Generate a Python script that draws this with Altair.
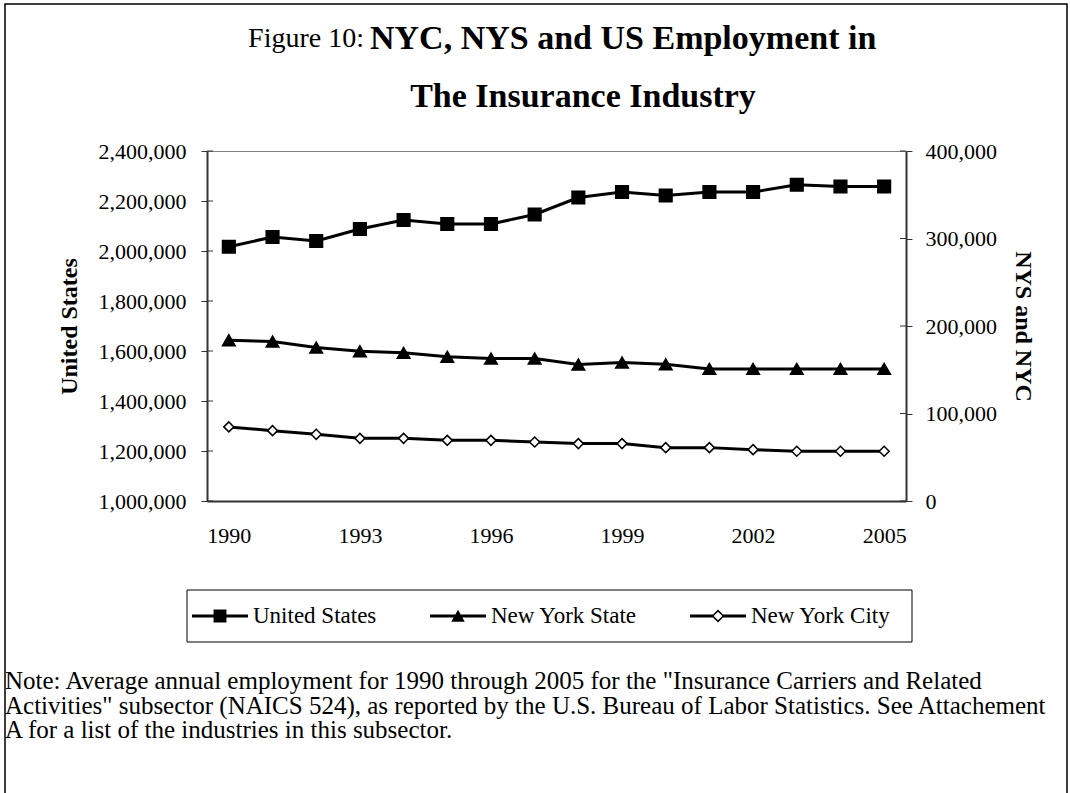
import altair as alt
import pandas as pd

years = [str(y) for y in range(1990, 2006)]
us_values = [2017000, 2056000, 2040000, 2088000, 2124000, 2108000, 2108000, 2146000,
             2214000, 2236000, 2222000, 2236000, 2236000, 2265000, 2258000, 2258000]
nys_values = [183800, 182300, 175400, 171200, 169300, 164800, 162800, 162800,
              156000, 158200, 156300, 151000, 151000, 151000, 151000, 151000]
nyc_values = [84700, 80400, 76200, 71600, 71600, 69300, 69300, 67500,
              65600, 65600, 61000, 61000, 58700, 56800, 56800, 56800]
series_names = ["United States", "New York State", "New York City"]
x_label_values = ["1990", "1993", "1996", "1999", "2002", "2005"]
left_ticks = [1000000, 1200000, 1400000, 1600000, 1800000, 2000000, 2200000, 2400000]
right_ticks = [0, 100000, 200000, 300000, 400000]
title_prefix = "Figure 10:"
title_line1 = "NYC, NYS and US Employment in"
title_line2 = "The Insurance Industry"
left_title = "United States"
right_title = "NYS and NYC"
note_lines = [
    "Note: Average annual employment for 1990 through 2005 for the \"Insurance Carriers and Related",
    "Activities\" subsector (NAICS 524), as reported by the U.S. Bureau of Labor Statistics.  See Attachement",
    "A for a list of the industries in this subsector.",
]

FONT = "Liberation Serif"
W, H = 699, 350

df_us = pd.DataFrame({"year": years, "value": us_values, "series": series_names[0]})
df_nys = pd.DataFrame({"year": years, "value": nys_values, "series": series_names[1]})
df_nyc = pd.DataFrame({"year": years, "value": nyc_values, "series": series_names[2]})
df_ny = pd.concat([df_nys, df_nyc], ignore_index=True)
df_lt = pd.DataFrame({"value": left_ticks})
df_rt = pd.DataFrame({"value": right_ticks})
df_series = pd.DataFrame({"series": series_names})
one = alt.Data(values=[{}])

x_axis = alt.Axis(values=x_label_values, ticks=False, labelAngle=0, labelFont=FONT,
                  labelFontSize=22, labelColor="black", labelPadding=24, title=None,
                  domainColor="#333333", domainWidth=2, grid=False)
X = alt.X("year:O", scale=alt.Scale(type="point", padding=0.5), axis=x_axis, sort=years)

left_scale = alt.Scale(domain=[1000000, 2400000], nice=False, zero=False)
right_scale = alt.Scale(domain=[0, 400000], nice=False, zero=False)

left_axis = alt.Axis(orient="left", values=left_ticks, format=",d", labelFont=FONT,
                     labelFontSize=22, labelColor="black", tickSize=6, tickColor="#333333",
                     labelPadding=15, domainColor="#333333", domainWidth=2, grid=False,
                     title=left_title, titleFont=FONT, titleFontSize=24, titleFontWeight="bold",
                     titleColor="black", titleAngle=270, titleX=-138, titleY=175,
                     titleBaseline="middle", titleAlign="center")
right_axis = alt.Axis(orient="right", values=right_ticks, format=",d", labelFont=FONT,
                      labelFontSize=22, labelColor="black", tickSize=6, tickColor="#333333",
                      labelPadding=13, domainColor="#333333", domainWidth=2, grid=False,
                      title=right_title, titleFont=FONT, titleFontSize=24, titleFontWeight="bold",
                      titleColor="black", titleAngle=90, titleX=116, titleY=175,
                      titleBaseline="middle", titleAlign="center")

# legend symbols: nominal box 30px (coords scaled by 15), line 56px long
path_us = "M-1.867,-0.1H1.867V0.1H-1.867Z M-0.43,-0.43H0.43V0.43H-0.43Z"
path_nys = "M-1.867,-0.1H1.867V0.1H-1.867Z M0,-0.42L0.45,0.38L-0.45,0.38Z"
path_nyc = ("M-1.867,-0.1H-0.33V0.1H-1.867Z M0.33,-0.1H1.867V0.1H0.33Z "
            "M0,-0.43L0.43,0L0,0.43L-0.43,0Z M0,-0.29L-0.29,0L0,0.29L0.29,0Z")

legend = alt.Legend(orient="none", legendX=-20, legendY=445, direction="horizontal",
                    columns=3, title=None, labelFont=FONT, labelFontSize=23, labelColor="black",
                    labelOffset=18, symbolOffset=13, symbolSize=900, columnPadding=52, padding=5,
                    symbolOpacity=1, symbolFillColor="black", symbolStrokeWidth=0)

legend_layer = alt.Chart(df_series).mark_point(filled=True, opacity=0, color="black").encode(
    shape=alt.Shape("series:N", sort=series_names,
                    scale=alt.Scale(domain=series_names, range=[path_us, path_nys, path_nyc]),
                    legend=legend))
legend_box = alt.Chart(one).mark_rect(fill="white", stroke="black", strokeWidth=1).encode(
    x=alt.value(-20), x2=alt.value(705), y=alt.value(439), y2=alt.value(491))

Y_left = alt.Y("value:Q", scale=left_scale, axis=left_axis)
Y_right = alt.Y("value:Q", scale=right_scale, axis=right_axis)

us_line = alt.Chart(df_us).mark_line(color="black", strokeWidth=3).encode(x=X, y=Y_left)
us_pts = alt.Chart(df_us).mark_point(shape="square", filled=True, size=160, opacity=1, fill="black",
                                      stroke="black", strokeWidth=1.5).encode(x=X, y=Y_left)
lt_rules = alt.Chart(df_lt).mark_rule(color="#333333", strokeWidth=1).encode(
    y=Y_left, x=alt.value(0), x2=alt.value(6))
left_group = alt.layer(us_line, us_pts, lt_rules)

ny_line = alt.Chart(df_ny).mark_line(color="black", strokeWidth=3).encode(
    x=X, y=Y_right, detail="series:N")
nys_pts = alt.Chart(df_nys).mark_point(shape="triangle-up", filled=True, size=160, opacity=1,
                                        fill="black", stroke="black", strokeWidth=1.5).encode(x=X, y=Y_right)
nyc_pts = alt.Chart(df_nyc).mark_point(shape="diamond", filled=True, size=100, opacity=1,
                                        fill="white", stroke="black", strokeWidth=1.5).encode(x=X, y=Y_right)
rt_rules = alt.Chart(df_rt).mark_rule(color="#333333", strokeWidth=1).encode(
    y=Y_right, x=alt.value(W - 6), x2=alt.value(W))
right_group = alt.layer(ny_line, nys_pts, nyc_pts, rt_rules)

border = alt.Chart(one).mark_rect(fill="transparent", stroke="black", strokeWidth=1.5).encode(
    x=alt.value(-202), x2=alt.value(860), y=alt.value(-147), y2=alt.value(660))
t_prefix = alt.Chart(one).mark_text(text=title_prefix, font=FONT, fontSize=28, align="right",
                                     baseline="middle", color="black").encode(
    x=alt.value(157), y=alt.value(-112))
t_line1 = alt.Chart(one).mark_text(text=title_line1, font=FONT, fontSize=34, fontWeight="bold",
                                    align="left", baseline="middle", color="black").encode(
    x=alt.value(163), y=alt.value(-112))
t_line2 = alt.Chart(one).mark_text(text=title_line2, font=FONT, fontSize=34, fontWeight="bold",
                                    align="center", baseline="middle", color="black").encode(
    x=alt.value(376), y=alt.value(-54))
note = alt.Chart(one).mark_text(text=note_lines, font=FONT, fontSize=25, align="left",
                                 baseline="alphabetic", lineHeight=24.5, color="black").encode(
    x=alt.value(-202), y=alt.value(538))

chart = alt.layer(border, left_group, right_group, legend_box, legend_layer, t_prefix, t_line1,
                  t_line2, note).resolve_scale(
    y="independent"
).properties(
    width=W, height=H,
    autosize=alt.AutoSizeParams(type="none"),
    padding={"left": 207, "top": 151, "right": 164, "bottom": 292},
    background="white",
).configure_view(stroke="#808080", strokeWidth=1)

chart.save("out.html", embed_options={"renderer": "svg", "actions": False})
